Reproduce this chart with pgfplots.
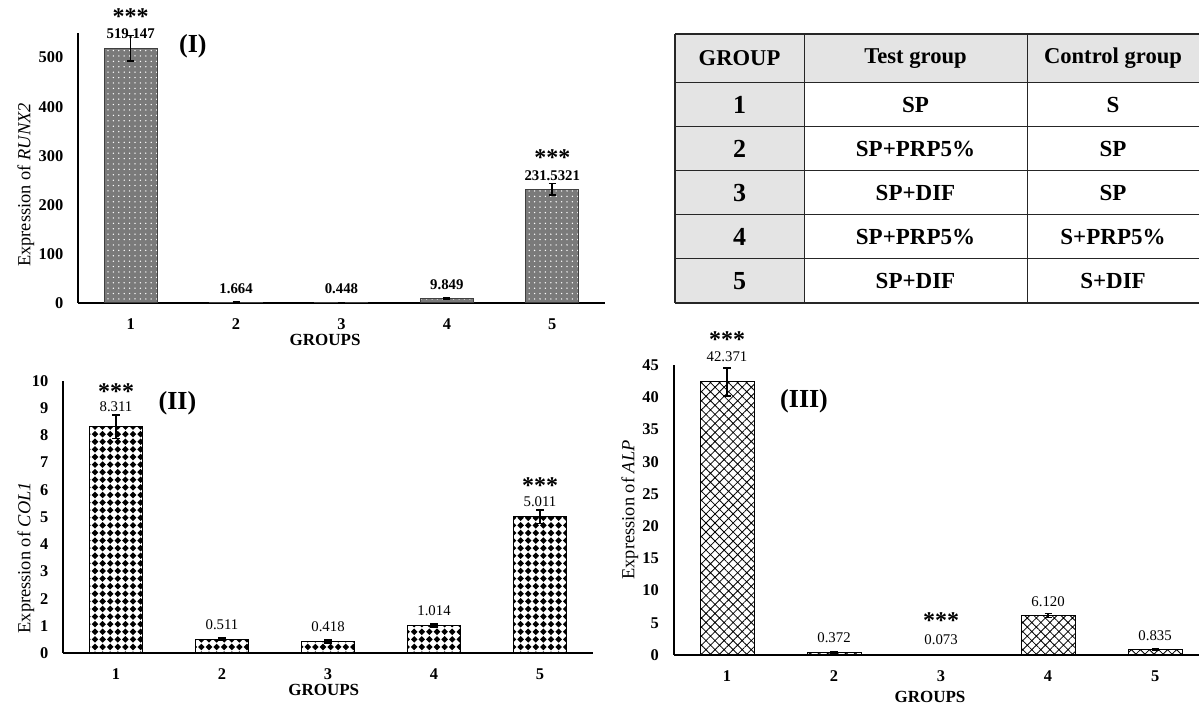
\documentclass[border=0pt]{standalone}
\usepackage{pgfplots}
\pgfplotsset{compat=1.18}
\usepackage{pgfplotstable}
\usepackage{fontspec}
\setmainfont{Liberation Serif}
\usetikzlibrary{patterns.meta}

\tikzdeclarepattern{
  name=diamonds,
  type=uncolored,
  bottom left={(-0.1pt,-0.1pt)},
  top right={(3.9pt,3.9pt)},
  tile size={(3.8pt,3.8pt)},
  code={\fill (1.9pt,0.25pt) -- (3.55pt,1.9pt) -- (1.9pt,3.55pt) -- (0.25pt,1.9pt) -- cycle;}
}

\definecolor{tblgray}{HTML}{E4E4E4}

\pgfplotstableread{
x y e
1 519.147 26
2 1.664 0.3
3 0.448 0.1
4 9.849 1.5
5 231.5321 12
}\runx

\pgfplotstableread{
x y e
1 8.311 0.43
2 0.511 0.03
3 0.418 0.05
4 1.014 0.05
5 5.011 0.25
}\colone

\pgfplotstableread{
x y e
1 42.371 2.2
2 0.372 0.05
3 0.073 0.02
4 6.120 0.3
5 0.835 0.1
}\alp

\pgfplotsset{
  myaxis/.style={
    scale only axis,
    axis x line=bottom, axis y line=left,
    axis line style={-, line width=1pt, black},
    major tick length=0pt,
    xtick={1,2,3,4,5},
    xmin=0.5, ymin=0,
    clip=false,
    /pgf/number format/assume math mode=true,
    tick label style={font=\fontsize{8.2}{9}\selectfont\bfseries},
    y tick label style={xshift=-3.8pt},
    x tick label style={yshift=-4.2pt},
    xlabel={GROUPS},
    xlabel style={font=\fontsize{8.5}{10}\selectfont\bfseries, anchor=center, inner sep=0.5pt},
    ylabel style={font=\fontsize{9.2}{10}\selectfont, anchor=center},
  },
  errplot/.style={draw=none, mark=none, forget plot,
    error bars/.cd, y dir=both, y explicit,
    error bar style={draw=black, line width=0.8pt},
    error mark options={rotate=90, mark size=1.8pt, draw=black, line width=0.8pt}},
}

\tikzset{vl/.style={inner sep=0.3pt}, st/.style={inner sep=0pt}}
\newcommand{\vlab}{\fontsize{7.4}{8}\selectfont}
\newcommand{\sigstar}{\fontsize{12}{12}\selectfont\bfseries}
\newcommand{\panel}{\fontsize{13}{14}\selectfont\bfseries}

\begin{document}
\begin{tikzpicture}
\useasboundingbox (0,0) rectangle (599.5pt,-352pt);

% ---------------- Chart I ----------------
\begin{axis}[myaxis,
  at={(39pt,-151.5pt)}, anchor=south west,
  width=263.5pt, height=135pt,
  xmax=5.5, ymax=550,
  ytick={0,100,200,300,400,500},
  ylabel={Expression of \textit{RUNX2}},
  ylabel style={at={(axis description cs:-0.099,0.437)}},
  xlabel style={at={(axis description cs:0.469,0)}, yshift=-18.5pt},
]
\addplot[ybar, bar width=26.5pt, fill=black!52, draw=black!75, line width=0.5pt,
  postaction={pattern={Dots[distance=2.7pt, radius=0.38pt]}, pattern color=white}]
  table[x=x, y=y] {\runx};
\addplot[errplot] table[x=x, y=y, y error=e] {\runx};
\node[vl, font=\vlab\bfseries] at (axis cs:1,549) {519.147};
\node[st, font=\sigstar] at (axis cs:1,583) {***};
\node[vl, font=\vlab\bfseries] at (axis cs:2,30) {1.664};
\node[vl, font=\vlab\bfseries] at (axis cs:3,30) {0.448};
\node[vl, font=\vlab\bfseries] at (axis cs:4,37) {9.849};
\node[vl, font=\vlab\bfseries] at (axis cs:5,260) {231.5321};
\node[st, font=\sigstar] at (axis cs:5,297) {***};
\node[font=\panel] at (axis cs:1.59,524) {(I)};
\end{axis}

% ---------------- Table ----------------
\fill[tblgray] (337.5pt,-17pt) rectangle (599.5pt,-41.5pt);
\fill[tblgray] (337.5pt,-41.5pt) rectangle (402pt,-151.5pt);
\foreach \yy in {-41.5,-63.5,-85.5,-107.5,-129.5}
  \draw[line width=0.5pt, black!85] (337.5pt,\yy pt) -- (599.5pt,\yy pt);
\draw[line width=0.8pt, black!85] (337.5pt,-17pt) -- (599.5pt,-17pt);
\draw[line width=0.8pt, black!85] (337.5pt,-151.5pt) -- (599.5pt,-151.5pt);
\draw[line width=0.8pt, black!85] (337.5pt,-17pt) -- (337.5pt,-151.5pt);
\draw[line width=0.5pt, black!85] (402pt,-17pt) -- (402pt,-151.5pt);
\draw[line width=0.5pt, black!85] (513.5pt,-17pt) -- (513.5pt,-151.5pt);
\begin{scope}[every node/.style={font=\fontsize{11.3}{13}\selectfont\bfseries}]
\node at (369.75pt,-29.25pt) {GROUP};
\node at (457.75pt,-29.25pt) {Test group};
\node at (556.5pt,-29.25pt) {Control group};
\end{scope}
\begin{scope}[every node/.style={font=\fontsize{13}{15}\selectfont\bfseries}]
\node at (369.75pt,-52.5pt) {1};
\node at (369.75pt,-74.5pt) {2};
\node at (369.75pt,-96.5pt) {3};
\node at (369.75pt,-118.5pt) {4};
\node at (369.75pt,-140.5pt) {5};
\end{scope}
\begin{scope}[every node/.style={font=\fontsize{11.5}{13}\selectfont\bfseries}]
\node at (457.75pt,-52.5pt) {SP};
\node at (457.75pt,-74.5pt) {SP+PRP5\%};
\node at (457.75pt,-96.5pt) {SP+DIF};
\node at (457.75pt,-118.5pt) {SP+PRP5\%};
\node at (457.75pt,-140.5pt) {SP+DIF};
\node at (556.5pt,-52.5pt) {S};
\node at (556.5pt,-74.5pt) {SP};
\node at (556.5pt,-96.5pt) {SP};
\node at (556.5pt,-118.5pt) {S+PRP5\%};
\node at (556.5pt,-140.5pt) {S+DIF};
\end{scope}

% ---------------- Chart II ----------------
\begin{axis}[myaxis,
  at={(31.5pt,-326.5pt)}, anchor=south west,
  width=265pt, height=136pt,
  xmax=5.5, ymax=10,
  ytick={0,1,...,10},
  ylabel={Expression of \textit{COL1}},
  ylabel style={at={(axis description cs:-0.07,0.35)}},
  xlabel style={at={(axis description cs:0.492,0)}, yshift=-18.5pt},
]
\addplot[ybar, bar width=26.5pt, fill=white, draw=black, line width=0.5pt,
  postaction={pattern=diamonds, pattern color=black}]
  table[x=x, y=y] {\colone};
\addplot[errplot] table[x=x, y=y, y error=e] {\colone};
\node[vl, font=\vlab] at (axis cs:1,9.04) {8.311};
\node[st, font=\sigstar] at (axis cs:1,9.62) {***};
\node[vl, font=\vlab] at (axis cs:2,1.03) {0.511};
\node[vl, font=\vlab] at (axis cs:3,0.96) {0.418};
\node[vl, font=\vlab] at (axis cs:4,1.54) {1.014};
\node[vl, font=\vlab] at (axis cs:5,5.55) {5.011};
\node[st, font=\sigstar] at (axis cs:5,6.14) {***};
\node[font=\panel] at (axis cs:1.58,9.19) {(II)};
\end{axis}

% ---------------- Chart III ----------------
\begin{axis}[myaxis,
  at={(336.75pt,-327.5pt)}, anchor=south west,
  width=262.75pt, height=145pt,
  xmax=5.41, ymax=45,
  ytick={0,5,...,45},
  ylabel={Expression of \textit{ALP}},
  ylabel style={at={(axis description cs:-0.083,0.5)}},
  xlabel style={at={(axis description cs:0.488,0)}, yshift=-21pt},
]
\addplot[ybar, bar width=27pt, fill=white, draw=black, line width=0.5pt,
  postaction={pattern={Hatch[angle=45, distance=3.2pt, line width=0.4pt]}, pattern color=black}]
  table[x=x, y=y] {\alp};
\addplot[errplot] table[x=x, y=y, y error=e] {\alp};
\node[vl, font=\vlab] at (axis cs:1,46.3) {42.371};
\node[st, font=\sigstar] at (axis cs:1,48.9) {***};
\node[vl, font=\vlab] at (axis cs:2,2.66) {0.372};
\node[vl, font=\vlab] at (axis cs:3,2.34) {0.073};
\node[st, font=\sigstar] at (axis cs:3,5.3) {***};
\node[vl, font=\vlab] at (axis cs:4,8.3) {6.120};
\node[vl, font=\vlab] at (axis cs:5,3.0) {0.835};
\node[font=\panel] at (axis cs:1.72,39.4) {(III)};
\end{axis}
\end{tikzpicture}
\end{document}
